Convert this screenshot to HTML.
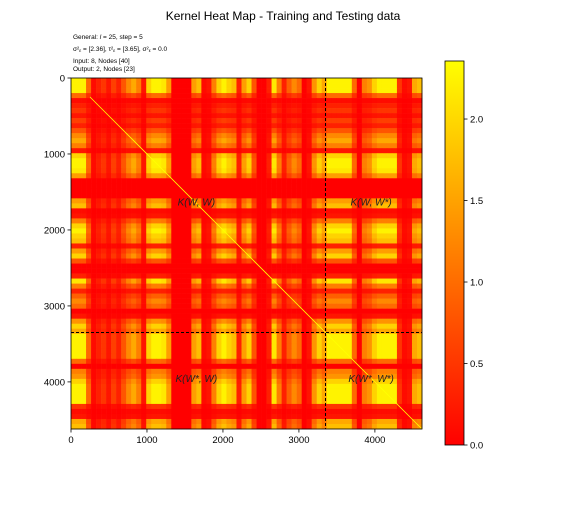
<!DOCTYPE html>
<html><head><meta charset="utf-8"><style>
body{margin:0;background:#fff;}
svg{display:block;font-family:"Liberation Sans",sans-serif;}
</style></head><body>
<svg id="chart" width="566" height="510" viewBox="0 0 566 510">
<text x="283" y="20" text-anchor="middle" font-size="12">Kernel Heat Map - Training and Testing data</text>
<g font-size="6.5">
<text x="73" y="39">General: <tspan font-style="italic">l</tspan> = 25, step = 5</text>
<text x="73" y="51">σ²<tspan font-size="4.5" dy="1">ε</tspan><tspan dy="-1"> = [2.36], τ²</tspan><tspan font-size="4.5" dy="1">ε</tspan><tspan dy="-1"> = [3.65], σ²</tspan><tspan font-size="4.5" dy="1">ε</tspan><tspan dy="-1"> = 0.0</tspan></text>
<text x="73" y="63">Input: 8, Nodes [40]</text>
<text x="73" y="71">Output: 2, Nodes [23]</text>
</g>
<g id="cells"></g>
<g id="overlay"></g>
<g id="axes"></g>
<g id="cbar"></g>
</svg>
<script>
const profile = [2.3,2.3,2.3,1.0,0.1,0.3,0.5,0.2,0.6,0.3,0.8,1.3,1.6,1.2,0.2,2.0,2.3,2.3,2.2,1.5,0,0,0,0,1.5,1.8,0.1,0.2,1.2,2.0,2.3,2.0,1.8,0.3,1.5,2.0,0.8,0,0,0.3,2.2,1.2,0.3,0.9,1.3,1.0,0,0.2,1.4,2.0,1.6,2.3,2.3,2.3,2.3,2.3,1.0,0,1.2,1.4,2.0,2.3,2.3,2.3,2.3,0.5,0.1,0.2,1.6,1.8];
const extentVals = [0, 4620];
const tickVals = [0, 1000, 2000, 3000, 4000];
const splitVal = [3350];
const cbarTicks = [0.0, 0.5, 1.0, 1.5, 2.0];
const cbarRange = [0, 2.356];
const annotations = ["K(W, W)", "K(W, W*)", "K(W*, W)", "K(W*, W*)"];

const NS = "http://www.w3.org/2000/svg";
const X0 = 71, Y0 = 78, SIZE = 351;
const xs = v => X0 + (v - extentVals[0]) / (extentVals[1] - extentVals[0]) * SIZE;
const ys = v => Y0 + (v - extentVals[0]) / (extentVals[1] - extentVals[0]) * SIZE;
const color = v => { const t = Math.max(0, Math.min(1, (v - cbarRange[0]) / (cbarRange[1] - cbarRange[0]))); return `rgb(255,${Math.round(255 * t)},0)`; };
function mk(tag, attrs, parent) { const e = document.createElementNS(NS, tag); for (const k in attrs) e.setAttribute(k, attrs[k]); parent.appendChild(e); return e; }

const n = profile.length, seg = (extentVals[1] - extentVals[0]) / n;
const cells = document.getElementById('cells');
for (let i = 0; i < n; i++) for (let j = 0; j < n; j++) {
  const v = profile[i] * profile[j] / cbarRange[1];
  const r = mk('rect', { x: xs(j * seg), y: ys(i * seg), width: xs((j + 1) * seg) - xs(j * seg) + 0.3, height: ys((i + 1) * seg) - ys(i * seg) + 0.3, fill: color(v) }, cells);
  
  
}
const ov = document.getElementById('overlay');
const diag = mk('line', { x1: xs(250), y1: ys(250), x2: xs(extentVals[1]), y2: ys(extentVals[1]), stroke: '#ffff00', 'stroke-width': 0.8 }, ov);


const vl = mk('line', { x1: xs(splitVal[0]), y1: Y0, x2: xs(splitVal[0]), y2: Y0 + SIZE, stroke: '#000', 'stroke-dasharray': '3,2', 'stroke-width': 1 }, ov);


const hl = mk('line', { x1: X0, y1: ys(splitVal[0]), x2: X0 + SIZE, y2: ys(splitVal[0]), stroke: '#000', 'stroke-dasharray': '3,2', 'stroke-width': 1 }, ov);


const annPos = [[1650, 1680], [3950, 1680], [1650, 4000], [3950, 4000]];
annotations.forEach((t, k) => {
  const e = mk('text', { x: xs(annPos[k][0]), y: ys(annPos[k][1]), 'text-anchor': 'middle', 'font-size': 10, 'font-style': 'italic', fill: '#222' }, ov);
  e.textContent = t;
  
  
});
const ax = document.getElementById('axes');
const frame = mk('rect', { x: X0, y: Y0, width: SIZE, height: SIZE, fill: 'none', stroke: '#000', 'stroke-width': 0.8 }, ax);


tickVals.forEach(v => {
  mk('line', { x1: xs(v), y1: Y0 + SIZE, x2: xs(v), y2: Y0 + SIZE + 3.5, stroke: '#000', 'stroke-width': 0.8 }, ax);
  const tx = mk('text', { x: xs(v), y: Y0 + SIZE + 14, 'text-anchor': 'middle', 'font-size': 9.5 }, ax);
  tx.textContent = v;
  
  
  mk('line', { x1: X0 - 3.5, y1: ys(v), x2: X0, y2: ys(v), stroke: '#000', 'stroke-width': 0.8 }, ax);
  const ty = mk('text', { x: X0 - 6, y: ys(v) + 3.5, 'text-anchor': 'end', 'font-size': 9.5 }, ax);
  ty.textContent = v;
  
  
});
const cb = document.getElementById('cbar');
const CX = 445, CW = 19, CT = 61, CB = 445;
const cy = v => CB - (v - cbarRange[0]) / (cbarRange[1] - cbarRange[0]) * (CB - CT);
const defs = mk('defs', {}, cb);
const grad = mk('linearGradient', { id: 'cg', x1: 0, y1: 1, x2: 0, y2: 0 }, defs);
mk('stop', { offset: 0, 'stop-color': color(cbarRange[0]) }, grad);
mk('stop', { offset: 1, 'stop-color': color(cbarRange[1]) }, grad);
const cr = mk('rect', { x: CX, y: CT, width: CW, height: CB - CT, fill: 'url(#cg)', stroke: '#000', 'stroke-width': 0.8 }, cb);


cbarTicks.forEach(v => {
  mk('line', { x1: CX + CW, y1: cy(v), x2: CX + CW + 3.5, y2: cy(v), stroke: '#000', 'stroke-width': 0.8 }, cb);
  const t = mk('text', { x: CX + CW + 6, y: cy(v) + 3.5, 'font-size': 9.5 }, cb);
  t.textContent = v.toFixed(1);
  
  
});
</script>
</body></html>
